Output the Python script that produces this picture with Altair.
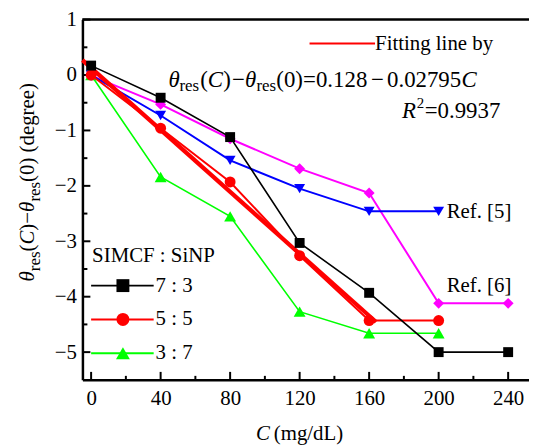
import altair as alt
import pandas as pd

# ---------------- data ----------------
C_all = [0, 40, 80, 120, 160, 200, 240]
C_short = [0, 40, 80, 120, 160, 200]

y_73 = [0.17, -0.41, -1.12, -3.03, -3.93, -5.00, -5.00]      # SIMCF:SiNP 7:3
y_55 = [0.00, -0.96, -1.93, -3.26, -4.43, -4.43]              # 5:5
y_37 = [0.00, -1.84, -2.55, -4.27, -4.66, -4.66]              # 3:7
y_ref5 = [0.00, -0.73, -1.54, -2.05, -2.46, -2.46]            # Ref. [5]
y_ref6 = [-0.01, -0.53, -1.15, -1.69, -2.13, -4.12, -4.12]    # Ref. [6]

fit_C = [-5, 164]
fit_y = [0.268, -4.456]

x_ticks = [0, 40, 80, 120, 160, 200, 240]
x_minor = [20, 60, 100, 140, 180, 220]
y_ticks = [-5, -4, -3, -2, -1, 0, 1]
y_minor = [-4.5, -3.5, -2.5, -1.5, -0.5, 0.5]

FONT = "Liberation Serif"
W, H = 450, 363
xs = alt.Scale(domain=[-5, 252], nice=False, zero=False)
ys = alt.Scale(domain=[-5.5, 1], nice=False, zero=False)


def X(f):
    return alt.X(f, type="quantitative", scale=xs, title=None)


def Y(f):
    return alt.Y(f, type="quantitative", scale=ys, title=None)


# series: name, C, y, color, shape, marker size, line width
series = [
    ("Ref6", C_all, y_ref6, "#ff00ff", "diamond", 121, 2.0),
    ("Ref5", C_short, y_ref5, "#0000ff", "triangle-down", 121, 2.0),
    ("3:7", C_short, y_37, "#00ff00", "triangle-up", 144, 1.6),
    ("5:5", C_short, y_55, "#ff0000", "circle", 121, 2.0),
    ("7:3", C_all, y_73, "#000000", "square", 100, 1.6),
]

layers = []

# axes carrier (invisible)
axis_df = pd.DataFrame({"C": [0], "v": [0]})
axes = alt.Chart(axis_df).mark_point(opacity=0).encode(
    x=alt.X("C:Q", scale=xs, title=None,
            axis=alt.Axis(values=x_ticks, format="d", grid=False, ticks=False,
                          domainColor="black", domainWidth=2.5,
                          labelFont=FONT, labelFontSize=21, labelColor="black",
                          labelPadding=8, labelFlush=False)),
    y=alt.Y("v:Q", scale=ys, title=None,
            axis=alt.Axis(values=y_ticks, format="d", grid=False, ticks=False,
                          domainColor="black", domainWidth=2.5,
                          labelFont=FONT, labelFontSize=21, labelColor="black",
                          labelPadding=6, labelFlush=False)),
)
layers.append(axes)

# top border
layers.append(alt.Chart(axis_df).mark_rule(color="black", strokeWidth=2.5).encode(
    x=alt.datum(-5), x2=alt.datum(252), y=alt.datum(1)))


# inward ticks
def yticks(vals, length):
    d = pd.DataFrame({"v": vals})
    return alt.Chart(d).mark_rule(color="black", strokeWidth=2).encode(
        y=Y("v"), x=alt.value(0), x2=alt.value(length))


def xticks(vals, length):
    d = pd.DataFrame({"C": vals})
    return alt.Chart(d).mark_rule(color="black", strokeWidth=2).encode(
        x=X("C"), y=alt.value(H), y2=alt.value(H - length))


layers += [yticks(y_ticks, 8), yticks(y_minor, 5), xticks(x_ticks, 8), xticks(x_minor, 4)]


def series_layers(Cv, yv, color, shape, size, sw, points=True):
    d = pd.DataFrame({"C": Cv, "v": yv})
    base = alt.Chart(d).encode(x=X("C"), y=Y("v"))
    out = [base.mark_line(color=color, strokeWidth=sw)]
    if points:
        out.append(base.mark_point(filled=True, color=color, shape=shape, size=size, opacity=1))
    return out


for name, Cv, yv, color, shape, size, sw in series:
    if name == "5:5":
        layers += series_layers(fit_C, fit_y, "#ff0000", None, 0, 4.2, points=False)
    layers += series_layers(Cv, yv, color, shape, size, sw)

# custom legend (lower left)
leg_v = [-3.80, -4.41, -5.02]
leg_color = ["#000000", "#ff0000", "#00ff00"]
leg_shape = ["square", "circle", "triangle-up"]
leg_size = [169, 169, 196]
leg_text = ["7 : 3", "5 : 5", "3 : 7"]
leg_df = pd.DataFrame({"C0": [0] * 3, "C1": [36] * 3, "Cm": [18.3] * 3, "Ct": [37.1] * 3,
                       "v": leg_v, "color": leg_color, "shape": leg_shape,
                       "size": leg_size, "text": leg_text})
leg_base = alt.Chart(leg_df)
layers.append(leg_base.mark_rule(strokeWidth=2).encode(
    x=X("C0"), x2="C1:Q", y=Y("v"), color=alt.Color("color:N", scale=None)))
layers.append(leg_base.mark_point(filled=True, opacity=1).encode(
    x=X("Cm"), y=Y("v"),
    color=alt.Color("color:N", scale=None), shape=alt.Shape("shape:N", scale=None),
    size=alt.Size("size:Q", scale=None)))
layers.append(leg_base.mark_text(font=FONT, fontSize=21, align="left", baseline="middle",
                                 color="black").encode(
    x=X("Ct"), y=Y("v"), text="text:N"))

# fitting-line legend sample
fitleg = pd.DataFrame({"C0": [125.7], "C1": [163.4], "v": [0.570]})
layers.append(alt.Chart(fitleg).mark_rule(color="#ff0000", strokeWidth=2).encode(
    x=X("C0"), x2="C1:Q", y=Y("v")))

# text pieces: text, C, v, size, italic, angle
EQ = -0.2175
SUB = -0.289
pieces = [
    # fitting legend / equation / R^2
    ("Fitting line by", 163.4, 0.445, 21, False, 0),
    ("θ", 44.57, EQ, 23, True, 0),
    ("res", 50.86, SUB, 17, False, 0),
    ("(", 62.86, EQ, 23, False, 0),
    ("C", 67.14, EQ, 23, True, 0),
    (")", 76.0, EQ, 23, False, 0),
    ("−", 81.14, EQ, 23, False, 0),
    ("θ", 88.57, EQ, 23, True, 0),
    ("res", 95.14, SUB, 17, False, 0),
    ("(0)", 106.57, EQ, 23, False, 0),
    ("=", 122.0, EQ, 23, False, 0),
    ("0.128", 129.4, EQ, 23, False, 0),
    ("−", 161.1, EQ, 23, False, 0),
    ("0.02795", 170.3, EQ, 23, False, 0),
    ("C", 213.1, EQ, 23, True, 0),
    ("R", 178.9, -0.7726, 23, True, 0),
    ("2", 187.4, -0.594, 15, False, 0),
    ("=0.9937", 192.0, -0.7726, 23, False, 0),
    ("SIMCF : SiNP", 0.57, -3.369, 21, False, 0),
    ("Ref. [5]", 204.6, -2.474, 21, False, 0),
    ("Ref. [6]", 204.6, -3.816, 21, False, 0),
    # x axis title
    ("C", 94.9, -6.58, 21, True, 0),
    ("(mg/dL)", 105.1, -6.58, 21, False, 0),
    # y axis title (rotated)
    ("θ", -32.6, -3.727, 21, True, 270),
    ("res", -29.7, -3.539, 17, False, 270),
    ("(", -32.6, -3.184, 21, False, 270),
    ("C", -32.6, -3.059, 21, True, 270),
    (")", -32.6, -2.808, 21, False, 270),
    ("−", -32.6, -2.683, 21, False, 270),
    ("θ", -32.6, -2.472, 21, True, 270),
    ("res", -29.7, -2.284, 17, False, 270),
    ("(0) (degree)", -32.6, -1.929, 21, False, 270),
]
pdf = pd.DataFrame(pieces, columns=["text", "C", "v", "size", "italic", "angle"])
pdf["mid"] = pdf["text"].str.startswith("Ref.")

for italic in (False, True):
    for ang in (0, 270):
        for mid in (False, True):
            sub = pdf[(pdf["italic"] == italic) & (pdf["angle"] == ang) & (pdf["mid"] == mid)]
            if len(sub) == 0:
                continue
            mark_kw = dict(font=FONT, align="left", color="black",
                           baseline="middle" if mid else "alphabetic")
            if italic:
                mark_kw["fontStyle"] = "italic"
            if ang:
                mark_kw["angle"] = ang
            layers.append(alt.Chart(sub).mark_text(**mark_kw).encode(
                x=X("C"), y=Y("v"),
                text="text:N", size=alt.Size("size:Q", scale=None)))

chart = alt.layer(*layers).properties(
    width=W, height=H,
    padding={"left": 75, "top": 10, "right": 0, "bottom": 67},
    autosize=alt.AutoSizeParams(type="none"),
).configure_view(strokeWidth=0)

chart.save("out.html", embed_options={"renderer": "svg", "actions": False})
